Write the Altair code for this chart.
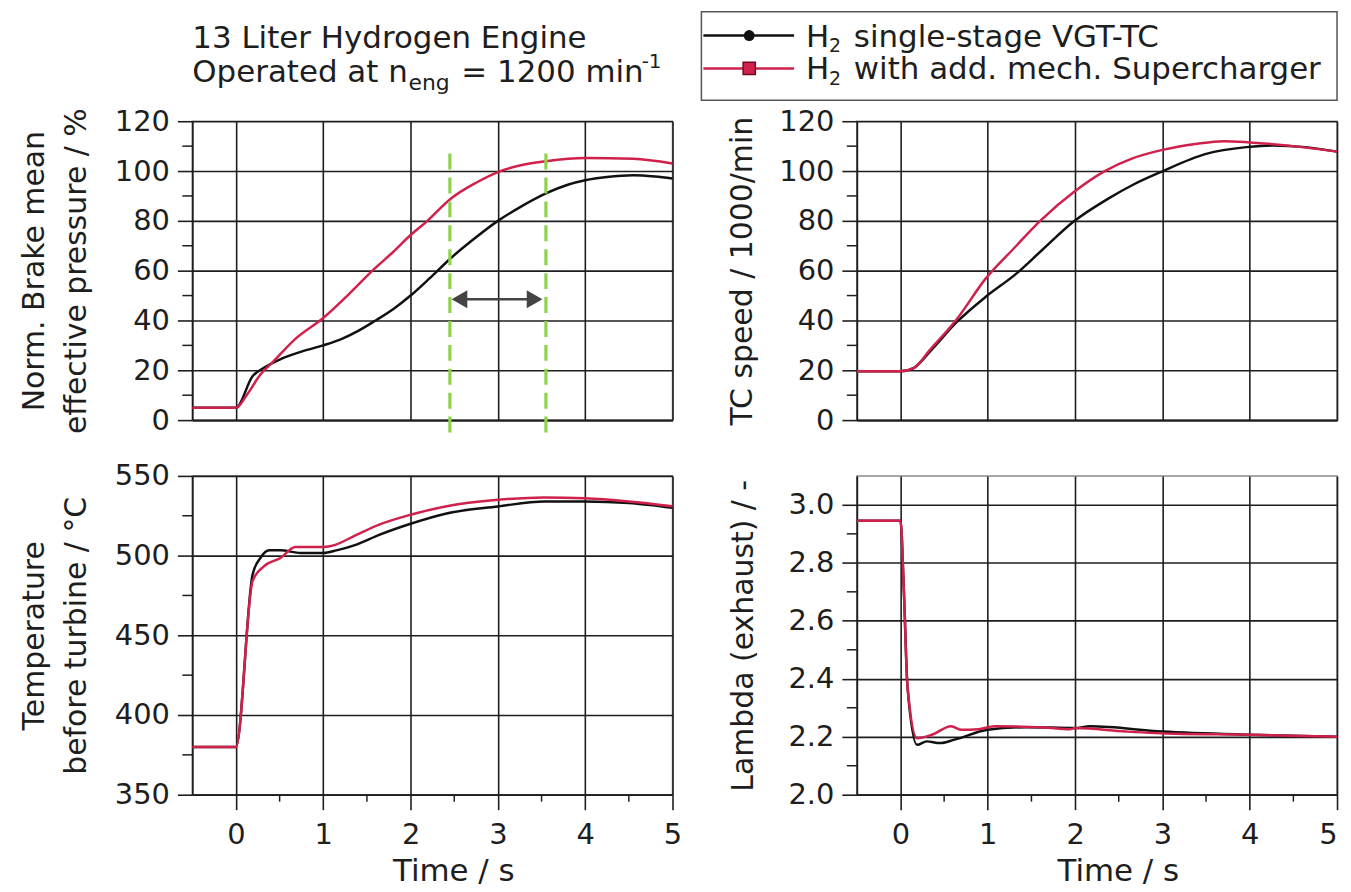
import altair as alt
import pandas as pd

# ---------------- data ----------------
SERIES = ["H2 single-stage VGT-TC", "H2 with add. mech. Supercharger"]

# Norm. brake mean effective pressure / %
BMEP_T_VGT = [-0.5, 0, 0.19, 0.32, 0.5, 0.75, 1.0, 1.2, 1.4, 1.6, 1.8, 2.0, 2.22, 2.46, 2.71, 3.0, 3.26, 3.55, 3.8, 4.0, 4.25, 4.55, 4.8, 5.0]
BMEP_V_VGT = [5, 5, 17.6, 21, 24.3, 27.5, 30, 32.4, 35.8, 40, 44.5, 50, 57, 65, 72.3, 80, 85.6, 91, 94.5, 96.3, 97.6, 98.3, 97.8, 97]
BMEP_T_SC = [-0.5, 0, 0.13, 0.28, 0.43, 0.69, 1.0, 1.3, 1.59, 1.8, 2.0, 2.18, 2.46, 2.75, 3.0, 3.25, 3.55, 4.0, 4.55, 5.0]
BMEP_V_SC = [5, 5, 10.4, 18.3, 23.6, 32.9, 41, 50.8, 60.9, 67.5, 74.3, 79.6, 88.9, 95.3, 99.6, 102.2, 103.9, 105.2, 104.9, 103]

# TC speed / 1000/min
TC_T_VGT = [-0.5, 0, 0.15, 0.34, 0.64, 0.98, 1.32, 1.62, 1.98, 2.38, 2.68, 2.98, 3.5, 3.96, 4.26, 4.64, 5.0]
TC_V_VGT = [19.6, 19.6, 20.9, 27.6, 39.2, 49.6, 58.6, 68.2, 79.6, 88.9, 94.8, 99.6, 106.9, 109.6, 110.3, 109.6, 107.8]
TC_T_SC = [-0.5, 0, 0.15, 0.34, 0.64, 0.98, 1.3, 1.6, 2.0, 2.34, 2.65, 3.0, 3.4, 3.7, 4.0, 4.5, 5.0]
TC_V_SC = [19.6, 19.6, 20.9, 28.3, 40.3, 57, 69, 80, 92, 100, 105, 108.5, 111, 112, 111.5, 110, 107.8]

# Temperature before turbine / degC
TEMP_T_VGT = [-0.5, 0, 0.19, 0.28, 0.38, 0.51, 0.74, 1.0, 1.15, 1.38, 1.64, 2.0, 2.4, 3.0, 3.53, 4.0, 4.5, 5.0]
TEMP_V_VGT = [380, 380, 488, 498.5, 503.3, 503.3, 501.7, 501.7, 503.3, 506.9, 513, 520, 526.3, 530.8, 534, 534, 533, 530]
TEMP_T_SC = [-0.5, 0, 0.19, 0.32, 0.51, 0.68, 1.0, 1.09, 1.38, 1.64, 2.0, 2.4, 3.0, 3.53, 4.0, 4.5, 5.0]
TEMP_V_SC = [380, 380, 484, 493.3, 498.5, 505.4, 505.4, 506, 513, 519.4, 525.6, 530.8, 535, 536.5, 536, 534, 531]

# Lambda (exhaust) / -
LAM_T_VGT = [-0.5, 0, 0.04, 0.08, 0.19, 0.3, 0.45, 0.62, 1.0, 1.45, 2.0, 2.17, 3.0, 4.0, 5.0]
LAM_V_VGT = [2.945, 2.945, 2.695, 2.374, 2.172, 2.184, 2.178, 2.19, 2.224, 2.233, 2.23, 2.236, 2.218, 2.207, 2.2]
LAM_T_SC = [-0.5, 0, 0.04, 0.08, 0.19, 0.36, 0.58, 0.7, 0.89, 1.08, 1.64, 1.94, 2.0, 2.58, 3.15, 4.0, 5.0]
LAM_V_SC = [2.945, 2.945, 2.695, 2.374, 2.195, 2.207, 2.236, 2.224, 2.226, 2.236, 2.232, 2.226, 2.23, 2.218, 2.21, 2.207, 2.2]

# axes
X_DOMAIN = [-0.5, 5]
X_TICKS = [0, 1, 2, 3, 4, 5]
X_MINOR = [0.5, 1.5, 2.5, 3.5, 4.5]
BMEP_TICKS = [0, 20, 40, 60, 80, 100, 120]
BMEP_MINOR = [10, 30, 50, 70, 90, 110]
TC_TICKS = [0, 20, 40, 60, 80, 100, 120]
TC_MINOR = [10, 30, 50, 70, 90, 110]
TEMP_TICKS = [350, 400, 450, 500, 550]
TEMP_MINOR = [375, 425, 475, 525]
LAM_TICKS = [2.0, 2.2, 2.4, 2.6, 2.8, 3.0]
LAM_MINOR = [2.1, 2.3, 2.5, 2.7, 2.9]

# annotation in the BMEP panel (time span marked by dashed lines + arrow)
MARK_T = [2.45, 3.55]
MARK_TOP = 107
MARK_BOTTOM = -5
ARROW_T = [2.5, 3.48]
ARROW_HEAD_T = [2.56, 3.42]
ARROW_V = 48.5

# ---------------- styling ----------------
FONT = "DejaVu Sans"
INK = "#1e1e1e"
BLACK = "#111111"
RED = "#d0214c"
GREEN = "#8cd24b"
W = 482
H_TOP = 300
H_BOT = 320
DUMMY = pd.DataFrame({"k": [0]})


def series_df(t1, v1, t2, v2):
    return pd.DataFrame({
        "t": t1 + t2,
        "v": v1 + v2,
        "s": [SERIES[0]] * len(t1) + [SERIES[1]] * len(t2),
    })


def txt(s, x, y, size, align="left"):
    return alt.Chart(DUMMY).mark_text(font=FONT, fontSize=size, align=align,
                                      baseline="alphabetic", color=INK).encode(
        x=alt.value(x), y=alt.value(y), text=alt.value(s))


def panel(df, ydom, yticks, yminor, ytitle, title_x, h, bottom, yfmt, flush=False, extra=()):
    xs = alt.Scale(domain=X_DOMAIN, nice=False, zero=False)
    ys = alt.Scale(domain=ydom, nice=False, zero=False)
    if bottom:
        xaxis = alt.Axis(values=X_TICKS, grid=True, ticks=True, tickSize=15,
                         labelPadding=11, labelFontSize=29, format="d",
                         labelFlush=flush, labelOverlap=False,
                         title="Time / s", titleFontSize=31, titleFontWeight="normal",
                         titleX=262, titleY=86, titleAlign="center",
                         titleBaseline="alphabetic")
    else:
        xaxis = alt.Axis(values=X_TICKS, grid=True, ticks=False, labels=False,
                         title=None, domain=True)
    yaxis = alt.Axis(values=yticks, grid=True, tickSize=15, labelPadding=8,
                     labelFontSize=29, format=yfmt, labelOverlap=False,
                     labelFlush=False,
                     title=ytitle, titleFontSize=30, titleFontWeight="normal",
                     titleAngle=270, titleX=title_x, titleY=h / 2,
                     titleAlign="center", titleBaseline="alphabetic",
                     titleLineHeight=42)

    def X(f):
        return alt.X(f, type="quantitative", scale=xs, axis=xaxis)

    def Y(f):
        return alt.Y(f, type="quantitative", scale=ys, axis=yaxis)

    lines = alt.Chart(df).mark_line(strokeWidth=2.5, interpolate="monotone").encode(
        x=X("t"), y=Y("v"),
        color=alt.Color("s:N", scale=alt.Scale(domain=SERIES, range=[BLACK, RED]), legend=None),
    )
    minor = alt.Chart(pd.DataFrame({"m": yminor})).mark_rule(color=INK, strokeWidth=1.5).encode(
        y=Y("m"), x=alt.value(-10), x2=alt.value(0),
    )
    layers = [lines, minor]
    if bottom:
        xminor = alt.Chart(pd.DataFrame({"m": X_MINOR})).mark_rule(color=INK, strokeWidth=1.5).encode(
            x=X("m"), y=alt.value(h), y2=alt.value(h + 7),
        )
        layers.append(xminor)
    for e in extra:
        layers.append(e(X, Y))
    return alt.layer(*layers).properties(width=W, height=h)


def bmep_annot(X, Y):
    green = alt.Chart(pd.DataFrame({"t": MARK_T, "y1": [MARK_TOP] * 2, "y2": [MARK_BOTTOM] * 2})).mark_rule(
        color=GREEN, strokeWidth=3.2, strokeDash=[16, 8]).encode(
        x=X("t"), y=Y("y1"), y2="y2:Q")
    arrow = alt.Chart(pd.DataFrame({"t1": [ARROW_T[0]], "t2": [ARROW_T[1]], "v": [ARROW_V]})).mark_rule(
        color="#444444", strokeWidth=2.5).encode(
        x=X("t1"), x2="t2:Q", y=Y("v"))
    heads = alt.Chart(pd.DataFrame({"t": ARROW_HEAD_T, "v": [ARROW_V] * 2,
                                    "sh": ["triangle-left", "triangle-right"]})).mark_point(
        filled=True, color="#444444", size=330, opacity=1).encode(
        x=X("t"), y=Y("v"),
        shape=alt.Shape("sh:N", scale=None))
    anchor = alt.Chart(DUMMY).mark_rule(strokeOpacity=0, color="white").encode(
        x=alt.value(-184), x2=alt.value(-183), y=alt.value(-110), y2=alt.value(-109))
    title = alt.layer(
        txt("13 Liter Hydrogen Engine", 0, -74, 31),
        txt("Operated at n", 0, -39, 31),
        txt("eng", 217, -31, 22),
        txt("= 1200 min", 270, -39, 31),
        txt("-1", 451, -53, 20),
    )
    return alt.layer(green, arrow, heads, anchor, title)


def legend_box(X, Y):
    box = alt.Chart(DUMMY).mark_rect(fill="white", stroke="#555555", strokeWidth=1.5).encode(
        x=alt.value(-156), x2=alt.value(W), y=alt.value(-110), y2=alt.value(-21))
    l1 = alt.Chart(DUMMY).mark_rule(color=BLACK, strokeWidth=2.5).encode(
        x=alt.value(-154), x2=alt.value(-63), y=alt.value(-86))
    l2 = alt.Chart(DUMMY).mark_rule(color=RED, strokeWidth=2.5).encode(
        x=alt.value(-154), x2=alt.value(-63), y=alt.value(-53))
    m1 = alt.Chart(DUMMY).mark_point(shape="circle", filled=True, color=BLACK, size=120, opacity=1).encode(
        x=alt.value(-108), y=alt.value(-86))
    m2 = alt.Chart(DUMMY).mark_point(shape="square", filled=True, fill=RED, stroke="#6e0c22",
                                     strokeWidth=1.5, size=150, opacity=1).encode(
        x=alt.value(-108), y=alt.value(-53))
    texts = alt.layer(
        txt("H", -51, -75, 31), txt("2", -28, -69, 19), txt("single-stage VGT-TC", -3, -75, 31),
        txt("H", -51, -42, 31), txt("2", -28, -36, 19), txt("with add. mech. Supercharger", -3, -42, 31),
    )
    return alt.layer(box, l1, l2, m1, m2, texts)


tl = panel(series_df(BMEP_T_VGT, BMEP_V_VGT, BMEP_T_SC, BMEP_V_SC), [0, 120], BMEP_TICKS, BMEP_MINOR,
           ["Norm. Brake mean", "effective pressure / %"], -149, H_TOP, False, "d", extra=[bmep_annot])
tr = panel(series_df(TC_T_VGT, TC_V_VGT, TC_T_SC, TC_V_SC), [0, 120], TC_TICKS, TC_MINOR,
           "TC speed / 1000/min", -106, H_TOP, False, "d", extra=[legend_box])
bl = panel(series_df(TEMP_T_VGT, TEMP_V_VGT, TEMP_T_SC, TEMP_V_SC), [350, 550], TEMP_TICKS, TEMP_MINOR,
           ["Temperature", "before turbine / °C"], -149, H_BOT, True, "d", flush=False)
br = panel(series_df(LAM_T_VGT, LAM_V_VGT, LAM_T_SC, LAM_V_SC), [2.0, 3.1], LAM_TICKS, LAM_MINOR,
           "Lambda (exhaust) / -", -105, H_BOT, True, ".1f", flush=True)

chart = alt.concat(tl, tr, bl, br, columns=2, spacing={"row": 36, "column": 185},
                   bounds="flush", align="all").properties(padding=0).configure(
    font=FONT).configure_view(stroke="#8a8a8a", strokeWidth=1.5).configure_axis(
    domainColor=INK, domainWidth=1.8, gridColor=INK, gridWidth=1.6, gridOpacity=1,
    tickColor=INK, tickWidth=1.6, labelColor=INK, titleColor=INK,
    labelFont=FONT, titleFont=FONT)

chart.save("out.html", embed_options={"renderer": "svg", "actions": False})
